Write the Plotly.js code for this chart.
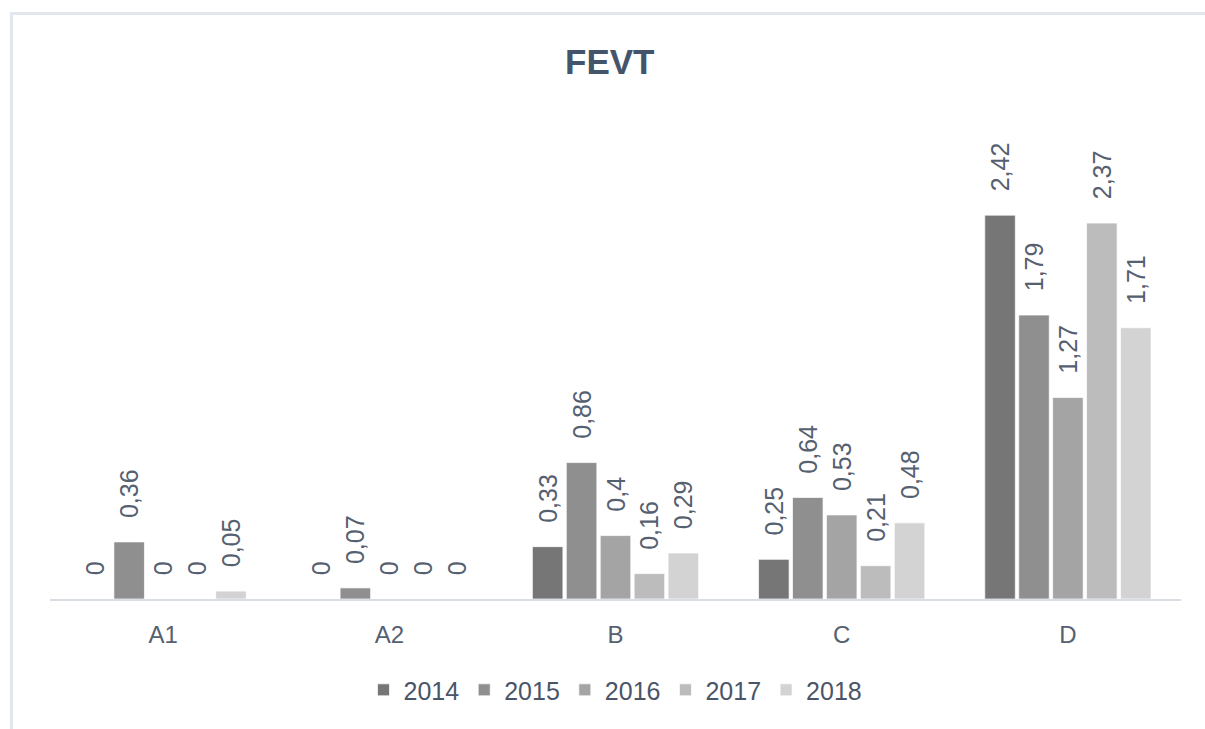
<!DOCTYPE html>
<html>
<head>
<meta charset="utf-8">
<script src="https://cdn.plot.ly/plotly-3.0.1.min.js"></script>
<style>
  body { margin: 0; background: #fff; }
  #frame {
    position: absolute; left: 10px; top: 12px; width: 1195px; height: 717px;
    border-top: 3px solid #e2e7ee; border-left: 3px solid #e2e7ee;
  }
  #chart { position: absolute; left: 0; top: 0; width: 1205px; height: 729px; }
</style>
</head>
<body>
<div id="frame"></div>
<div id="chart"></div>
<script>
const categories = ["A1", "A2", "B", "C", "D"];
const years = ["2014", "2015", "2016", "2017", "2018"];
const v2014 = [0, 0, 0.33, 0.25, 2.42];
const v2015 = [0.36, 0.07, 0.86, 0.64, 1.79];
const v2016 = [0, 0, 0.4, 0.53, 1.27];
const v2017 = [0, 0, 0.16, 0.21, 2.37];
const v2018 = [0.05, 0, 0.29, 0.48, 1.71];

const series = [v2014, v2015, v2016, v2017, v2018];
const colors = ["#767676", "#8f8f8f", "#a4a4a4", "#bcbcbc", "#d3d3d3"];

// leading no-break spaces push the rotated labels away from the bar tops
const pad = "\u00a0\u00a0\u00a0";

const traces = series.map((vals, i) => ({
  type: "bar",
  name: years[i],
  x: categories,
  y: vals,
  texttemplate: pad + "%{y}",
  textposition: "outside",
  textangle: -90,
  constraintext: "none",
  cliponaxis: false,
  textfont: { size: 25, color: "#556070" },
  marker: {
    color: colors[i],
    line: { color: "rgba(255,255,255,0.7)", width: 1 }
  },
  hoverinfo: "skip"
}));

const layout = {
  width: 1205,
  height: 729,
  separators: ", ",
  paper_bgcolor: "rgba(0,0,0,0)",
  plot_bgcolor: "rgba(0,0,0,0)",
  font: { family: "Liberation Sans, Arial, sans-serif", color: "#556070" },
  title: {
    text: "<b>FEVT</b>",
    font: { size: 35, color: "#44546a" },
    x: 0.506,
    xanchor: "center",
    yref: "container",
    y: 0.915,
    yanchor: "middle"
  },
  margin: { l: 50, r: 24, t: 139, b: 130, pad: 0 },
  barmode: "group",
  bargap: 0.25,
  bargroupgap: 0.1,
  showlegend: true,
  legend: {
    orientation: "h",
    x: 0.5,
    xanchor: "center",
    y: -0.198,
    yanchor: "middle",
    font: { size: 25, color: "#4a5568" },
    itemwidth: 30,
    traceorder: "normal"
  },
  xaxis: {
    type: "category",
    showline: true,
    linecolor: "#d9dee5",
    linewidth: 2,
    showgrid: false,
    zeroline: false,
    ticks: "",
    ticklabelstandoff: 13,
    tickfont: { size: 24, color: "#556070" }
  },
  yaxis: {
    range: [0, 2.9],
    visible: false,
    showgrid: false,
    zeroline: false
  }
};

Plotly.newPlot("chart", traces, layout, { displayModeBar: false, staticPlot: true });
</script>
</body>
</html>
